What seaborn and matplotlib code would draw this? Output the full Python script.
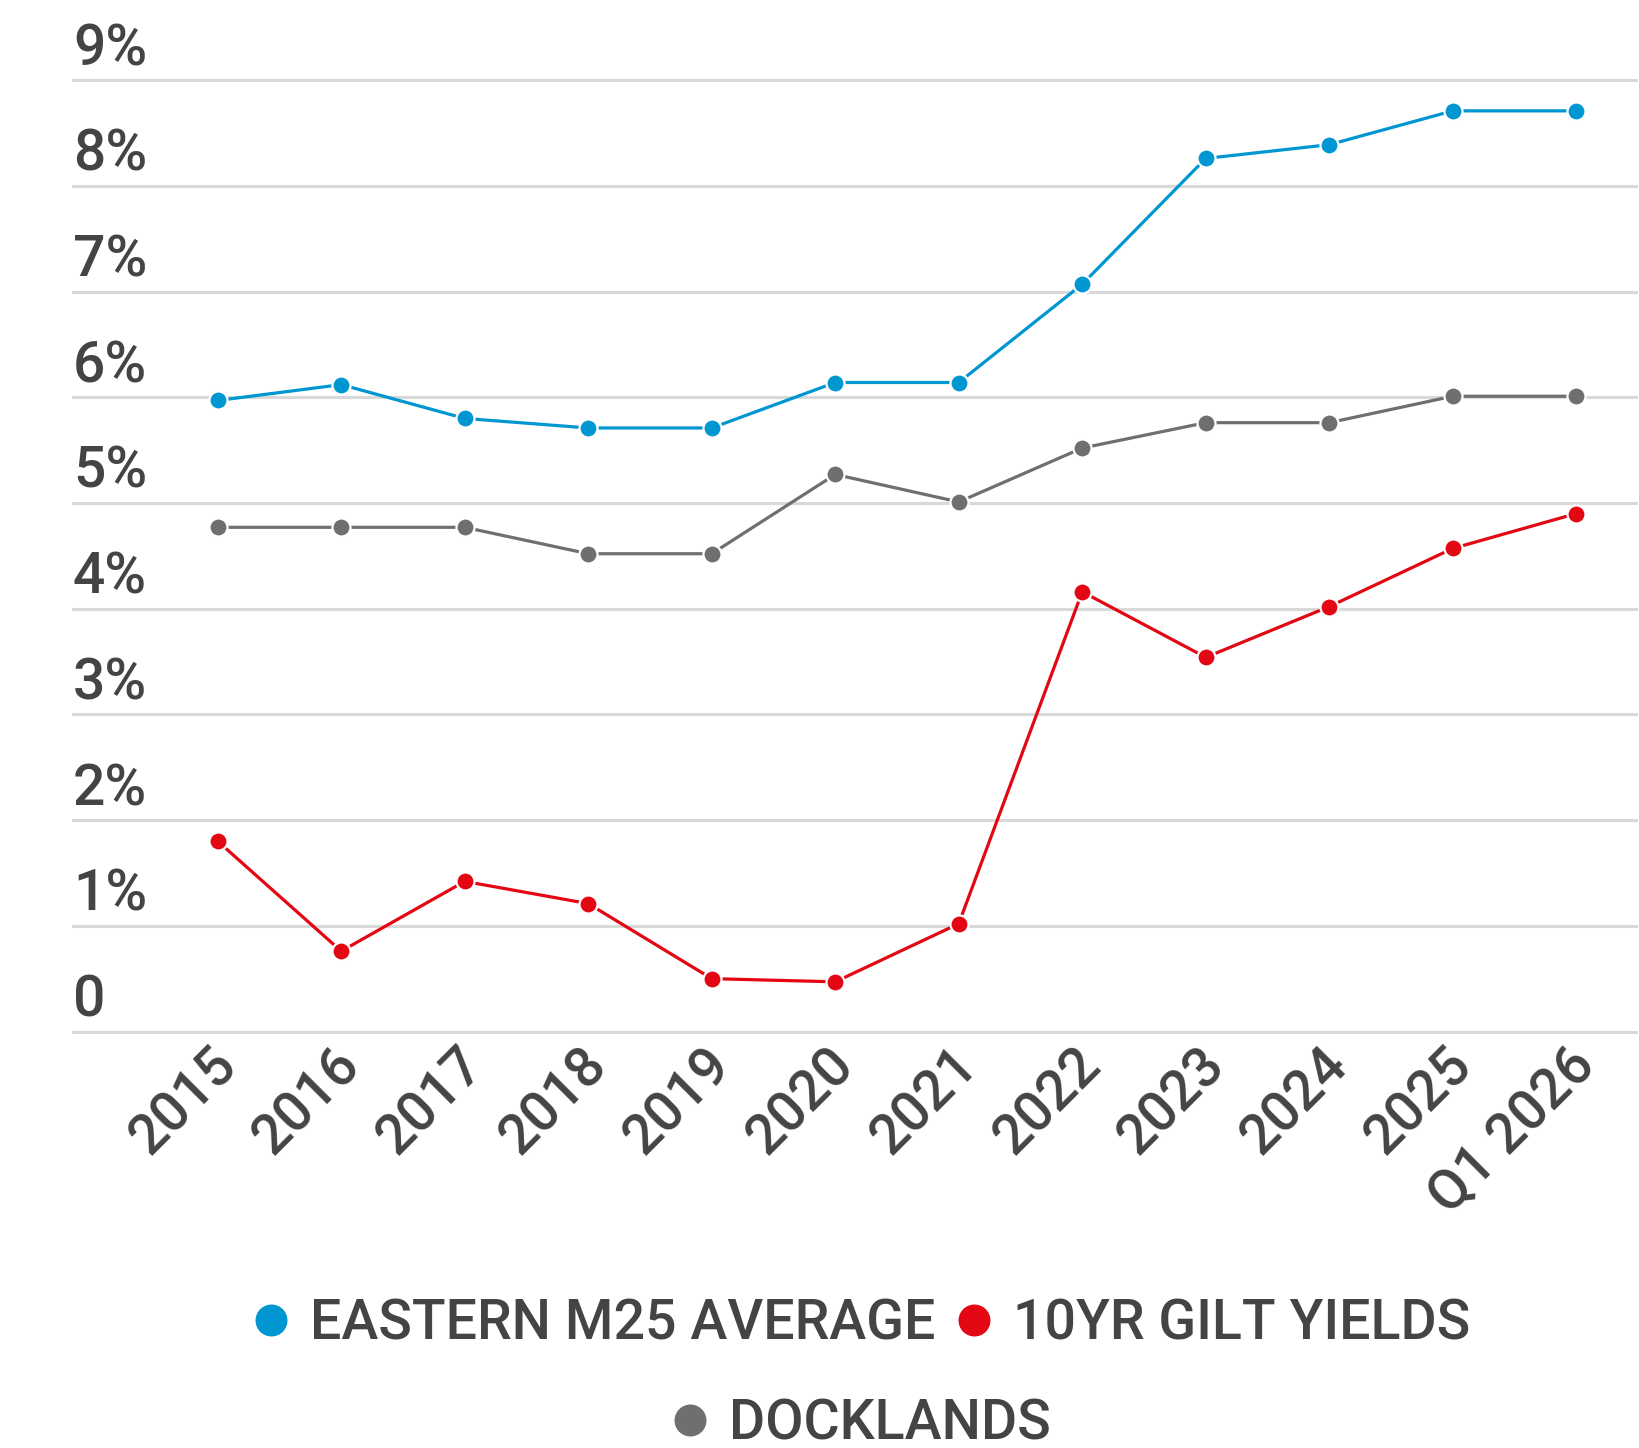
import matplotlib
matplotlib.use('Agg')
import matplotlib.pyplot as plt
import matplotlib.transforms as mtransforms
from matplotlib.lines import Line2D
import pandas as pd
import seaborn as sns

# Data (yields, %)
periods = ['2015', '2016', '2017', '2018', '2019', '2020',
           '2021', '2022', '2023', '2024', '2025', 'Q1 2026']
eastern_m25 = [5.97, 6.12, 5.80, 5.71, 5.71, 6.14, 6.14, 7.07, 8.26, 8.39, 8.71, 8.71]
gilt_yields = [1.80, 0.76, 1.42, 1.21, 0.50, 0.47, 1.02, 4.16, 3.54, 4.02, 4.57, 4.90]
docklands = [4.77, 4.77, 4.77, 4.52, 4.52, 5.27, 5.01, 5.52, 5.76, 5.76, 6.01, 6.01]

series_names = ['EASTERN M25 AVERAGE', '10YR GILT YIELDS', 'DOCKLANDS']
series_colors = ['#0096d1', '#e30613', '#6f6f6f']
y_ticks = [0, 1, 2, 3, 4, 5, 6, 7, 8, 9]
y_labels = ['0', '1%', '2%', '3%', '4%', '5%', '6%', '7%', '8%', '9%']

text_color = '#444444'

sns.set_style('white')
plt.rcParams['font.family'] = ['Roboto', 'DejaVu Sans']

# long format table for seaborn
df = pd.DataFrame({'period': periods,
                   series_names[0]: eastern_m25,
                   series_names[1]: gilt_yields,
                   series_names[2]: docklands})
df_long = df.melt(id_vars='period', var_name='series', value_name='value')

W, H = 1640, 1448
fig = plt.figure(figsize=(W / 100, H / 100), dpi=100)
px_per_unit = 105.7
y0_px = 1031.5
pad_units = 0.1
ax_bottom = y0_px + pad_units * px_per_unit
ax_top = y0_px - (9 + pad_units) * px_per_unit
ax = fig.add_axes([72 / W, 1 - ax_bottom / H, (1638 - 72) / W, (ax_bottom - ax_top) / H])

sns.lineplot(data=df_long, x='period', y='value', hue='series',
             palette=dict(zip(series_names, series_colors)),
             marker='o', markersize=13, markeredgecolor='white', markeredgewidth=1.6,
             linewidth=2.3, legend=False, sort=False, ax=ax)

ax.set_xlim(-1.18, 11.5)
ax.set_ylim(-pad_units, 9 + pad_units)
ax.set_yticks(y_ticks)
ax.set_yticklabels([])
ax.tick_params(axis='y', length=0)
ax.grid(axis='y', color='#d9d9d9', linewidth=2.2)
ax.grid(axis='x', visible=False)
ax.set_axisbelow(True)
for s in ax.spines.values():
    s.set_visible(False)

for v, lab in zip(y_ticks, y_labels):
    ax.annotate(lab, xy=(0, v), xycoords=('axes fraction', 'data'),
                xytext=(1, 15), textcoords='offset pixels',
                ha='left', va='baseline', fontsize=41, color=text_color,
                fontweight='medium')

ax.set_xticks(range(len(periods)))
ax.set_xticklabels(periods, rotation=45, ha='right', rotation_mode='anchor',
                   fontsize=40, color=text_color, fontweight='medium')
ax.tick_params(axis='x', length=0, pad=0)
shift = mtransforms.ScaledTranslation(-8 / 100, 4 / 100, fig.dpi_scale_trans)
for lbl in ax.get_xticklabels():
    lbl.set_transform(lbl.get_transform() + shift)
ax.set_xlabel('')
ax.set_ylabel('')

# legend, wrapped over two centred rows
handles = [Line2D([], [], ls='none', marker='o', ms=22, color=c, mec=c)
           for c in series_colors]
leg_kw = dict(loc='center', frameon=False, handlelength=0.6, handletextpad=0.4,
              columnspacing=0.4, labelcolor=text_color,
              prop={'size': 40, 'weight': 'medium'})
fig.legend(handles[:2], series_names[:2], ncol=2,
           bbox_to_anchor=(862 / W, 1 - 1324 / H), **leg_kw)
fig.legend(handles[2:], series_names[2:], ncol=1,
           bbox_to_anchor=(862 / W, 1 - 1424 / H), **leg_kw)

fig.savefig('out.png', dpi=100)
